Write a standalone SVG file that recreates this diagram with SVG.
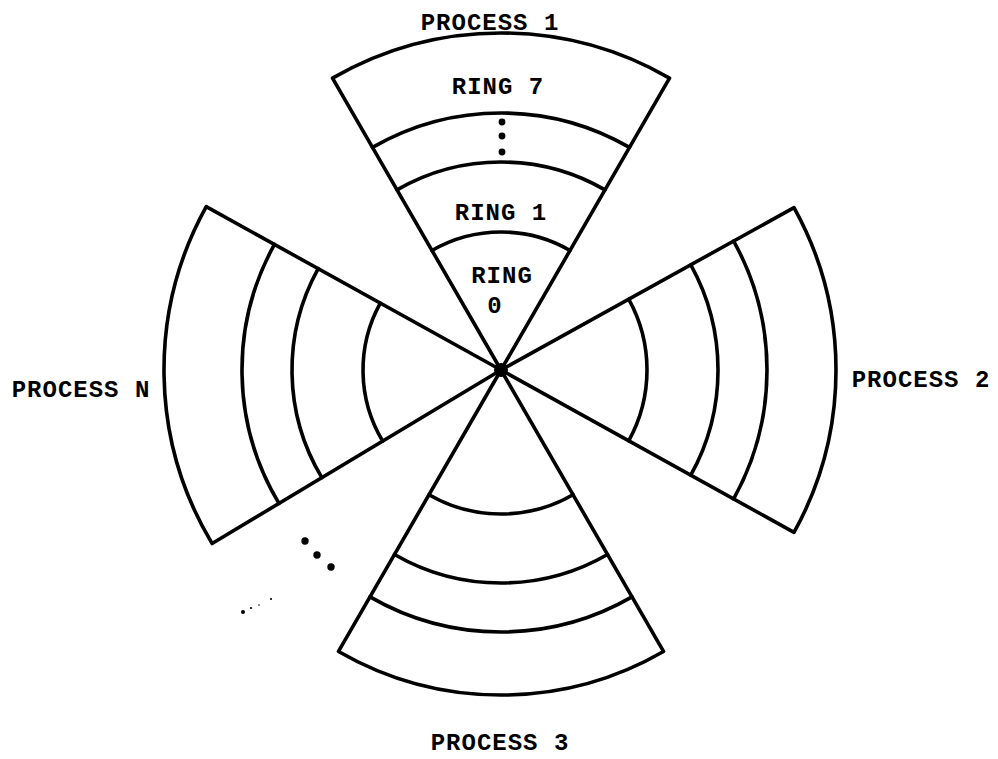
<svg xmlns="http://www.w3.org/2000/svg" width="998" height="759" viewBox="0 0 998 759">
<style>
.w{fill:none;stroke:#000;stroke-width:3.6;stroke-linejoin:round;stroke-linecap:round}
.t{font-family:"Liberation Mono","DejaVu Sans Mono",monospace;font-weight:bold;font-size:24px;letter-spacing:1px;fill:#000;text-anchor:middle}
</style>
<rect width="998" height="759" fill="#fff"/>
<g id="process1" transform="translate(501,370)">
<path class="w" d="M0,0 L-168.5,-291.85 A337,337 0 0 1 168.5,-291.85 Z"/>
<path class="w" d="M-128.5,-222.57 A257,257 0 0 1 128.5,-222.57"/>
<path class="w" d="M-104,-180.13 A208,208 0 0 1 104,-180.13"/>
<path class="w" d="M-69,-119.51 A138,138 0 0 1 69,-119.51"/>
</g>
<g id="process2" transform="translate(501,370) rotate(90)">
<path class="w" d="M0,0 L-162.4,-293 A335,335 0 0 1 162.4,-293 Z"/>
<path class="w" d="M-128.96,-232.64 A266,266 0 0 1 128.96,-232.64"/>
<path class="w" d="M-105.2,-189.8 A217,217 0 0 1 105.2,-189.8"/>
<path class="w" d="M-70.78,-127.69 A146,146 0 0 1 70.78,-127.69"/>
</g>
<g id="process3" transform="translate(501,370) rotate(180)">
<path class="w" d="M0,0 L-162.5,-281.46 A325,325 0 0 1 162.5,-281.46 Z"/>
<path class="w" d="M-131,-226.9 A262,262 0 0 1 131,-226.9"/>
<path class="w" d="M-106.5,-184.46 A213,213 0 0 1 106.5,-184.46"/>
<path class="w" d="M-72,-124.71 A144,144 0 0 1 72,-124.71"/>
</g>
<g id="processN" transform="translate(501,370) rotate(-91)">
<path class="w" d="M0,0 L-168.5,-291.85 A337,337 0 0 1 168.5,-291.85 Z"/>
<path class="w" d="M-129.5,-224.3 A259,259 0 0 1 129.5,-224.3"/>
<path class="w" d="M-104.5,-181 A209,209 0 0 1 104.5,-181"/>
<path class="w" d="M-69,-119.5 A138,138 0 0 1 69,-119.5"/>
</g>
<g id="hub"><circle cx="501" cy="370" r="7" fill="#000"/></g>
<g id="dots" fill="#000">
<circle cx="502" cy="122" r="3.4"/>
<circle cx="502" cy="136" r="3.4"/>
<circle cx="502" cy="152" r="3.4"/>
<circle cx="305" cy="541" r="3.7"/>
<circle cx="317" cy="555" r="3.7"/>
<circle cx="331" cy="567" r="3.7"/>
<circle cx="243" cy="612" r="2"/>
<circle cx="251" cy="608" r="1.1"/>
<circle cx="259" cy="605" r="0.8"/>
<circle cx="271" cy="599" r="1.1"/>
</g>
<g id="labels">
<text class="t" x="490" y="30">PROCESS 1</text>
<text class="t" x="498" y="94">RING 7</text>
<text class="t" x="501" y="220">RING 1</text>
<text class="t" x="502" y="283">RING</text>
<text class="t" x="495" y="313">0</text>
<text class="t" x="921" y="387">PROCESS 2</text>
<text class="t" x="81" y="397">PROCESS N</text>
<text class="t" x="500" y="750">PROCESS 3</text>
</g>
</svg>
